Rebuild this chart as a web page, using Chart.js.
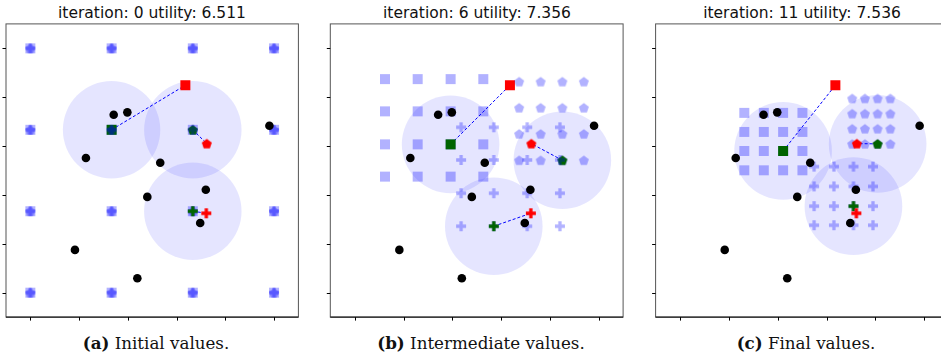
<!DOCTYPE html>
<html>
<head>
<meta charset="utf-8">
<script src="https://cdn.jsdelivr.net/npm/chart.js@4"></script>
<style>
  body { margin: 0; width: 941px; height: 362px; overflow: hidden; position: relative; background: #fff; }
  .panel { position: absolute; top: 0; width: 320px; height: 362px; }
  .title { position: absolute; top: 4px; line-height: 18px; font: 15.5px "DejaVu Sans", sans-serif; color: #111; white-space: nowrap; transform: translateX(-50%); }
  .caption { position: absolute; top: 333px; line-height: 20px; font: 16.7px "DejaVu Serif", serif; color: #111; white-space: nowrap; transform: translateX(-50%); }
</style>
</head>
<body>
<div class="title" style="left:152px">iteration: 0 utility: 6.511</div>
<div class="title" style="left:477px">iteration: 6 utility: 7.356</div>
<div class="title" style="left:802px">iteration: 11 utility: 7.536</div>
<div class="caption" style="left:156px"><b>(a)</b> Initial values.</div>
<div class="caption" style="left:481px"><b>(b)</b> Intermediate values.</div>
<div class="caption" style="left:806px"><b>(c)</b> Final values.</div>
<canvas id="chartA" class="panel" style="left:0px" width="320" height="362"></canvas>
<canvas id="chartB" class="panel" style="left:320px" width="320" height="362"></canvas>
<canvas id="chartC" class="panel" style="left:640px" width="320" height="362"></canvas>
<script>
// black points (same in every panel)
const pointsX = [0.342, 0.398, 0.228, 0.533, 0.981, 0.480, 0.720, 0.697, 0.183, 0.439];
const pointsY = [0.728, 0.738, 0.551, 0.532, 0.683, 0.392, 0.421, 0.285, 0.175, 0.059];

// targets: square, pentagon, plus
const targetX = [0.636, 0.724, 0.722];
const targetY = [0.849, 0.610, 0.325];

// tick positions (labels hidden)
const tickValues = [0, 0.2, 0.4, 0.6, 0.8, 1.0];
const radius = 0.2;

// iteration 0
const a_squareGridX = [0, 1/3, 2/3, 1];
const a_squareGridY = [0, 1/3, 2/3, 1];
const a_pentGridX = [0, 1/3, 2/3, 1];
const a_pentGridY = [0, 1/3, 2/3, 1];
const a_plusGridX = [0, 1/3, 2/3, 1];
const a_plusGridY = [0, 1/3, 2/3, 1];
const a_currentX = [1/3, 2/3, 2/3];
const a_currentY = [2/3, 2/3, 1/3];

// iteration 6
const b_squareGridX = [0.124, 0.258, 0.393, 0.527];
const b_squareGridY = [0.475, 0.607, 0.742, 0.874];
const b_pentGridX = [0.674, 0.762, 0.851, 0.939];
const b_pentGridY = [0.542, 0.650, 0.757, 0.864];
const b_plusGridX = [0.436, 0.570, 0.707, 0.841];
const b_plusGridY = [0.272, 0.407, 0.543, 0.677];
const b_currentX = [0.393, 0.851, 0.570];
const b_currentY = [0.607, 0.542, 0.272];

// iteration 11
const c_squareGridX = [0.263, 0.343, 0.422, 0.501];
const c_squareGridY = [0.501, 0.580, 0.658, 0.736];
const c_pentGridX = [0.705, 0.757, 0.809, 0.861];
const c_pentGridY = [0.609, 0.671, 0.733, 0.795];
const c_plusGridX = [0.549, 0.630, 0.710, 0.790];
const c_plusGridY = [0.276, 0.354, 0.435, 0.516];
const c_currentX = [0.422, 0.809, 0.710];
const c_currentY = [0.580, 0.609, 0.354];

// small canvases used as point styles
function makeMarker(shape, color, size) {
    const s = Math.ceil(size) + 2;
    const c = document.createElement('canvas');
    c.width = s; c.height = s;
    const ctx = c.getContext('2d');
    ctx.fillStyle = color;
    const m = s / 2;
    if (shape === 'square') {
        ctx.fillRect(m - size / 2, m - size / 2, size, size);
    } else if (shape === 'pentagon') {
        const r = size / 2 * 1.05;
        ctx.beginPath();
        for (let i = 0; i < 5; i++) {
            const a = -Math.PI / 2 + i * 2 * Math.PI / 5;
            const px = m + r * Math.cos(a);
            const py = m + 0.5 + r * Math.sin(a);
            if (i === 0) ctx.moveTo(px, py); else ctx.lineTo(px, py);
        }
        ctx.closePath();
        ctx.fill();
    } else if (shape === 'plus') {
        const t = size / 3;
        ctx.beginPath();
        ctx.rect(m - size / 2, m - t / 2, size, t);
        ctx.rect(m - t / 2, m - size / 2, t, size);
        ctx.fill();
    }
    return c;
}

const gridColor = 'rgba(0,0,255,0.3)';
const shapes = ['square', 'pentagon', 'plus'];
const gridMarkers = shapes.map(s => makeMarker(s, gridColor, 10));
const currentMarkers = shapes.map(s => makeMarker(s, '#006400', 10));
const targetMarkers = shapes.map(s => makeMarker(s, '#ff0000', 10));

function gridPoints(xs, ys) {
    const pts = [];
    ys.forEach(y => xs.forEach(x => pts.push({ x: x, y: y })));
    return pts;
}

// frame and outward ticks drawn from the scales
const framePlugin = {
    id: 'frame',
    afterDraw(chart) {
        const ctx = chart.ctx;
        const area = chart.chartArea;
        const xs = chart.scales.x, ys = chart.scales.y;
        ctx.save();
        ctx.lineWidth = 1;
        ctx.strokeStyle = '#555';
        ctx.strokeRect(area.left, area.top, area.right - area.left, area.bottom - area.top);
        ctx.strokeStyle = '#000';
        ctx.beginPath();
        ctx.moveTo(area.left, area.bottom);
        ctx.lineTo(area.right, area.bottom);
        tickValues.forEach(v => {
            const px = Math.round(xs.getPixelForValue(v)) + 0.5;
            ctx.moveTo(px, area.bottom);
            ctx.lineTo(px, area.bottom + 3.5);
            const py = Math.round(ys.getPixelForValue(v)) + 0.5;
            ctx.moveTo(area.left, py);
            ctx.lineTo(area.left - 3.5, py);
        });
        ctx.stroke();
        ctx.restore();
    }
};

// shaded coverage circles around each current position
const circlePlugin = {
    id: 'coverage',
    beforeDatasetsDraw(chart, args, opts) {
        const ctx = chart.ctx;
        const xs = chart.scales.x, ys = chart.scales.y;
        const area = chart.chartArea;
        ctx.save();
        ctx.beginPath();
        ctx.rect(area.left, area.top, area.right - area.left, area.bottom - area.top);
        ctx.clip();
        ctx.fillStyle = 'rgba(0,0,255,0.1)';
        opts.cx.forEach((cx, i) => {
            const px = xs.getPixelForValue(cx);
            const py = ys.getPixelForValue(opts.cy[i]);
            const r = xs.getPixelForValue(cx + radius) - px;
            ctx.beginPath();
            ctx.arc(px, py, r, 0, Math.PI * 2);
            ctx.fill();
        });
        ctx.restore();
    }
};

function buildPanel(canvasId, grids, curX, curY, pad) {
    const datasets = [];
    let order = 20;
    shapes.forEach((s, k) => {
        datasets.push({
            data: gridPoints(grids[k][0], grids[k][1]),
            pointStyle: gridMarkers[k], pointRadius: 5, order: order--
        });
        datasets.push({
            data: [{ x: curX[k], y: curY[k] }, { x: targetX[k], y: targetY[k] }],
            showLine: true, borderColor: '#0000ff', borderWidth: 1, borderDash: [3, 2],
            pointRadius: 0, order: order--
        });
        datasets.push({
            data: [{ x: curX[k], y: curY[k] }],
            pointStyle: currentMarkers[k], pointRadius: 5, order: order--
        });
        datasets.push({
            data: [{ x: targetX[k], y: targetY[k] }],
            pointStyle: targetMarkers[k], pointRadius: 5, order: order--
        });
    });
    datasets.push({
        data: pointsX.map((x, i) => ({ x: x, y: pointsY[i] })),
        pointStyle: 'circle', pointRadius: 4.3, backgroundColor: '#000', borderWidth: 0, order: 0
    });

    return new Chart(document.getElementById(canvasId), {
        type: 'scatter',
        data: { datasets: datasets },
        options: {
            responsive: false,
            animation: false,
            events: [],
            layout: { padding: pad },
            scales: {
                x: { type: 'linear', min: -0.1, max: 1.1, display: false },
                y: { type: 'linear', min: -0.1, max: 1.1, display: false }
            },
            plugins: {
                legend: { display: false },
                tooltip: { enabled: false },
                coverage: { cx: curX, cy: curY }
            }
        },
        plugins: [circlePlugin, framePlugin]
    });
}

buildPanel('chartA',
    [[a_squareGridX, a_squareGridY], [a_pentGridX, a_pentGridY], [a_plusGridX, a_plusGridY]],
    a_currentX, a_currentY,
    { left: 5.3, right: 21.6, top: 23.9, bottom: 44.9 });
buildPanel('chartB',
    [[b_squareGridX, b_squareGridY], [b_pentGridX, b_pentGridY], [b_plusGridX, b_plusGridY]],
    b_currentX, b_currentY,
    { left: 10.3, right: 16.9, top: 23.9, bottom: 44.9 });
buildPanel('chartC',
    [[c_squareGridX, c_squareGridY], [c_pentGridX, c_pentGridY], [c_plusGridX, c_plusGridY]],
    c_currentX, c_currentY,
    { left: 15.6, right: 11.3, top: 23.9, bottom: 44.9 });
</script>
</body>
</html>
